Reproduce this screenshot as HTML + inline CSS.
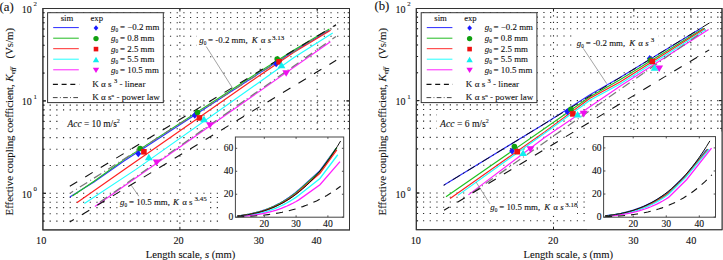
<!DOCTYPE html><html><head><meta charset="utf-8"><style>html,body{margin:0;padding:0;background:#fff;overflow:hidden}svg{display:block;font-family:"Liberation Serif",serif}</style></head><body><svg width="723" height="260" viewBox="0 0 723 260" font-family="Liberation Serif" fill="#111"><style>text{stroke:#111;stroke-width:0.1px}</style>
<rect width="723" height="260" fill="#fff"/>
<line x1="42.9" y1="221.12" x2="349.5" y2="221.12" stroke="#2a2a2a" stroke-width="1.1" stroke-dasharray="1.2 5.487"/>
<line x1="42.9" y1="213.8" x2="349.5" y2="213.8" stroke="#2a2a2a" stroke-width="1.1" stroke-dasharray="1.2 5.487"/>
<line x1="42.9" y1="207.61" x2="349.5" y2="207.61" stroke="#2a2a2a" stroke-width="1.1" stroke-dasharray="1.2 5.487"/>
<line x1="42.9" y1="202.25" x2="349.5" y2="202.25" stroke="#2a2a2a" stroke-width="1.1" stroke-dasharray="1.2 5.487"/>
<line x1="42.9" y1="197.53" x2="349.5" y2="197.53" stroke="#2a2a2a" stroke-width="1.1" stroke-dasharray="1.2 5.487"/>
<line x1="42.9" y1="193.3" x2="349.5" y2="193.3" stroke="#2a2a2a" stroke-width="1.1" stroke-dasharray="1.2 5.487"/>
<line x1="42.9" y1="165.48" x2="349.5" y2="165.48" stroke="#2a2a2a" stroke-width="1.1" stroke-dasharray="1.2 5.487"/>
<line x1="42.9" y1="149.21" x2="349.5" y2="149.21" stroke="#2a2a2a" stroke-width="1.1" stroke-dasharray="1.2 5.487"/>
<line x1="42.9" y1="137.67" x2="349.5" y2="137.67" stroke="#2a2a2a" stroke-width="1.1" stroke-dasharray="1.2 5.487"/>
<line x1="42.9" y1="128.72" x2="349.5" y2="128.72" stroke="#2a2a2a" stroke-width="1.1" stroke-dasharray="1.2 5.487"/>
<line x1="42.9" y1="121.4" x2="349.5" y2="121.4" stroke="#2a2a2a" stroke-width="1.1" stroke-dasharray="1.2 5.487"/>
<line x1="42.9" y1="115.21" x2="349.5" y2="115.21" stroke="#2a2a2a" stroke-width="1.1" stroke-dasharray="1.2 5.487"/>
<line x1="42.9" y1="109.85" x2="349.5" y2="109.85" stroke="#2a2a2a" stroke-width="1.1" stroke-dasharray="1.2 5.487"/>
<line x1="42.9" y1="105.13" x2="349.5" y2="105.13" stroke="#2a2a2a" stroke-width="1.1" stroke-dasharray="1.2 5.487"/>
<line x1="42.9" y1="100.9" x2="349.5" y2="100.9" stroke="#2a2a2a" stroke-width="1.1" stroke-dasharray="1.2 5.487"/>
<line x1="42.9" y1="73.08" x2="349.5" y2="73.08" stroke="#2a2a2a" stroke-width="1.1" stroke-dasharray="1.2 5.487"/>
<line x1="42.9" y1="56.81" x2="349.5" y2="56.81" stroke="#2a2a2a" stroke-width="1.1" stroke-dasharray="1.2 5.487"/>
<line x1="42.9" y1="45.27" x2="349.5" y2="45.27" stroke="#2a2a2a" stroke-width="1.1" stroke-dasharray="1.2 5.487"/>
<line x1="42.9" y1="36.32" x2="349.5" y2="36.32" stroke="#2a2a2a" stroke-width="1.1" stroke-dasharray="1.2 5.487"/>
<line x1="42.9" y1="29" x2="349.5" y2="29" stroke="#2a2a2a" stroke-width="1.1" stroke-dasharray="1.2 5.487"/>
<line x1="42.9" y1="22.81" x2="349.5" y2="22.81" stroke="#2a2a2a" stroke-width="1.1" stroke-dasharray="1.2 5.487"/>
<line x1="42.9" y1="17.45" x2="349.5" y2="17.45" stroke="#2a2a2a" stroke-width="1.1" stroke-dasharray="1.2 5.487"/>
<line x1="42.9" y1="12.73" x2="349.5" y2="12.73" stroke="#2a2a2a" stroke-width="1.1" stroke-dasharray="1.2 5.487"/>
<line x1="179.9" y1="8.5" x2="179.9" y2="229.9" stroke="#2a2a2a" stroke-width="1.1" stroke-dasharray="1.2 5.487"/>
<line x1="260.22" y1="8.5" x2="260.22" y2="229.9" stroke="#2a2a2a" stroke-width="1.1" stroke-dasharray="1.2 5.487"/>
<line x1="317.2" y1="8.5" x2="317.2" y2="229.9" stroke="#2a2a2a" stroke-width="1.1" stroke-dasharray="1.2 5.487"/>
<path d="M42.9 221.12h1.8M349.5 221.12h-1.8M42.9 213.8h1.8M349.5 213.8h-1.8M42.9 207.61h1.8M349.5 207.61h-1.8M42.9 202.25h1.8M349.5 202.25h-1.8M42.9 197.53h1.8M349.5 197.53h-1.8M42.9 193.3h3.0M349.5 193.3h-3.0M42.9 165.48h1.8M349.5 165.48h-1.8M42.9 149.21h1.8M349.5 149.21h-1.8M42.9 137.67h1.8M349.5 137.67h-1.8M42.9 128.72h1.8M349.5 128.72h-1.8M42.9 121.4h1.8M349.5 121.4h-1.8M42.9 115.21h1.8M349.5 115.21h-1.8M42.9 109.85h1.8M349.5 109.85h-1.8M42.9 105.13h1.8M349.5 105.13h-1.8M42.9 100.9h3.0M349.5 100.9h-3.0M42.9 73.08h1.8M349.5 73.08h-1.8M42.9 56.81h1.8M349.5 56.81h-1.8M42.9 45.27h1.8M349.5 45.27h-1.8M42.9 36.32h1.8M349.5 36.32h-1.8M42.9 29h1.8M349.5 29h-1.8M42.9 22.81h1.8M349.5 22.81h-1.8M42.9 17.45h1.8M349.5 17.45h-1.8M42.9 12.73h1.8M349.5 12.73h-1.8M42.9 193.3h3.0M349.5 193.3h-3.0M42.9 100.9h3.0M349.5 100.9h-3.0M179.9 229.9v-3M179.9 8.5v3M260.22 229.9v-3M260.22 8.5v3M317.2 229.9v-3M317.2 8.5v3" stroke="#222" stroke-width="1" fill="none"/>
<polyline points="69.8,197.1 94,182 124,161 250,79.2 294,51 329,30.5" fill="none" stroke="#3030ff" stroke-width="1.15" />
<polyline points="72.4,196 94,181.2 124,159.6 250,77.7 294,49.9 329.4,29.1" fill="none" stroke="#20c020" stroke-width="1.15" />
<polyline points="76.8,202.7 124,169.7 250,82 294,52.3 330.6,30.2" fill="none" stroke="#ff2020" stroke-width="1.15" />
<polyline points="84.4,203.5 136,169.4 250,88.8 294,57.6 332.7,32.9" fill="none" stroke="#20ffff" stroke-width="1.15" />
<polyline points="94.9,206.5 330.4,41.7" fill="none" stroke="#ff20ff" stroke-width="1.15" />
<polyline points="70.5,193 335.9,25.1" fill="none" stroke="#7a7a7a" stroke-width="1.25" stroke-dasharray="8.7 3.5 1 3.5" stroke-dashoffset="5.6"/>
<polyline points="100,202 335.9,36.5" fill="none" stroke="#7a7a7a" stroke-width="1.25" stroke-dasharray="8.7 3.5 1 3.5" />
<polyline points="69.8,186.3 336,24.7" fill="none" stroke="#111" stroke-width="1.1" stroke-dasharray="8.7 9.4" />
<polyline points="69.8,222 336.2,60.3" fill="none" stroke="#111" stroke-width="1.1" stroke-dasharray="8.7 9.4" stroke-dashoffset="4"/>
<path d="M138.3 150.3L141.2 153.8L138.3 157.3L135.4 153.8Z" fill="#1a1aff"/>
<circle cx="140.1" cy="148.5" r="2.8" fill="#10a010"/>
<rect x="141.1" y="149" width="5.6" height="5.6" fill="#ee1111"/>
<path d="M148.8 153.7L152.7 160.3L144.9 160.3Z" fill="#10eeee"/>
<path d="M156.6 166.1L160.5 159.5L152.7 159.5Z" fill="#ee10ee"/>
<path d="M194.8 111.7L197.7 115.2L194.8 118.7L191.9 115.2Z" fill="#1a1aff"/>
<circle cx="197.5" cy="112.5" r="2.8" fill="#10a010"/>
<rect x="196.7" y="115.1" width="5.6" height="5.6" fill="#ee1111"/>
<path d="M204 115.7L207.9 122.3L200.1 122.3Z" fill="#10eeee"/>
<path d="M209.9 128.8L213.8 122.2L206 122.2Z" fill="#ee10ee"/>
<path d="M276.2 60.3L279.1 63.8L276.2 67.3L273.3 63.8Z" fill="#1a1aff"/>
<circle cx="277.2" cy="59.1" r="2.8" fill="#10a010"/>
<rect x="276.3" y="59" width="5.6" height="5.6" fill="#ee1111"/>
<path d="M281.5 61.7L285.4 68.3L277.6 68.3Z" fill="#10eeee"/>
<path d="M286.2 76.8L290.1 70.2L282.3 70.2Z" fill="#ee10ee"/>
<rect x="42.9" y="8.5" width="306.6" height="221.4" fill="none" stroke="#333" stroke-width="1"/>
<rect x="47.6" y="12.7" width="115.7" height="89.9" fill="#fff" stroke="#333" stroke-width="1"/>
<text x="67" y="20.8" font-size="8.7" text-anchor="middle">sim</text>
<text x="96.8" y="20.8" font-size="8.7" text-anchor="middle">exp</text>
<line x1="53.2" y1="27.6" x2="78.8" y2="27.6" stroke="#2b2bff" stroke-width="1"/>
<path d="M96 25.13L98.38 28L96 30.87L93.62 28Z" fill="#1a1aff"/>
<text x="111.1" y="30.4" font-size="8.9"><tspan font-style="italic">g</tspan><tspan font-size="5.3" dy="1.8">0</tspan><tspan dy="-1.8" dx="-0.4"> = −0.2 mm</tspan></text>
<line x1="53.2" y1="38.2" x2="78.8" y2="38.2" stroke="#22bb22" stroke-width="1"/>
<circle cx="96" cy="38.6" r="2.66" fill="#10a010"/>
<text x="111.1" y="41" font-size="8.9"><tspan font-style="italic">g</tspan><tspan font-size="5.3" dy="1.8">0</tspan><tspan dy="-1.8" dx="-0.4"> = 0.8 mm</tspan></text>
<line x1="53.2" y1="48.7" x2="78.8" y2="48.7" stroke="#ff2b2b" stroke-width="1"/>
<rect x="93.7" y="46.8" width="4.59" height="4.59" fill="#ee1111"/>
<text x="111.1" y="51.5" font-size="8.9"><tspan font-style="italic">g</tspan><tspan font-size="5.3" dy="1.8">0</tspan><tspan dy="-1.8" dx="-0.4"> = 2.5 mm</tspan></text>
<line x1="53.2" y1="59.2" x2="78.8" y2="59.2" stroke="#22ffff" stroke-width="1"/>
<path d="M96 56.73L99.2 62.14L92.8 62.14Z" fill="#10eeee"/>
<text x="111.1" y="62" font-size="8.9"><tspan font-style="italic">g</tspan><tspan font-size="5.3" dy="1.8">0</tspan><tspan dy="-1.8" dx="-0.4"> = 5.5 mm</tspan></text>
<line x1="53.2" y1="69.8" x2="78.8" y2="69.8" stroke="#ff22ff" stroke-width="1"/>
<path d="M96 73.07L99.2 67.66L92.8 67.66Z" fill="#ee10ee"/>
<text x="111.1" y="72.6" font-size="8.9"><tspan font-style="italic">g</tspan><tspan font-size="5.3" dy="1.8">0</tspan><tspan dy="-1.8" dx="-0.4"> = 10.5 mm</tspan></text>
<line x1="52.9" y1="84.4" x2="79.2" y2="84.4" stroke="#111" stroke-width="1.1" stroke-dasharray="5 3.7"/>
<line x1="52.9" y1="97.6" x2="78.2" y2="97.6" stroke="#444" stroke-width="1" stroke-dasharray="4.7 2.3 0.9 2.3"/>
<text x="92.2" y="86.6" font-size="9.1">K α s <tspan font-size="6.5" dy="-3.5">3</tspan><tspan dy="3.5"> - linear</tspan></text>
<text x="92.2" y="99.7" font-size="9.1">K α s<tspan font-size="5" dy="-3">n</tspan><tspan dy="3"> - power law</tspan></text>
<text x="-0.5" y="11.4" font-size="12.8">(a)</text>
<text x="21.8" y="12.5" font-size="10">10<tspan font-size="6.8" dy="-6.6" dx="1.8">2</tspan></text>
<text x="21.8" y="105.3" font-size="10">10<tspan font-size="6.8" dy="-6.6" dx="1.8">1</tspan></text>
<text x="21.8" y="197.6" font-size="10">10<tspan font-size="6.8" dy="-6.6" dx="1.8">0</tspan></text>
<text x="41.2" y="244" font-size="10.2" text-anchor="middle">10</text>
<text x="178.6" y="244" font-size="10.2" text-anchor="middle">20</text>
<text x="258.8" y="244" font-size="10.2" text-anchor="middle">30</text>
<text x="316.6" y="244" font-size="10.2" text-anchor="middle">40</text>
<text x="145.8" y="258" font-size="10.6">Length scale, <tspan font-style="italic">s</tspan> (mm)</text>
<text transform="translate(12.7,215.4) rotate(-90)" font-size="10.8">Effective coupling coefficient, <tspan font-style="italic">K<tspan font-size="7" dy="1.8">eff</tspan></tspan><tspan dy="-1.8" dx="6"> (Vs/m)</tspan></text>
<rect x="63" y="112" width="66" height="23" fill="#fff"/>
<text x="67.5" y="126.5" font-size="9.4"><tspan font-style="italic">Acc</tspan> = 10 m/s<tspan font-size="6" dy="-4">2</tspan></text>
<rect x="197" y="33" width="91" height="13" fill="#fff"/>
<line x1="206.2" y1="46.5" x2="232.5" y2="88" stroke="#666" stroke-width="0.6"/>
<text x="199.2" y="43.1" font-size="8.9"><tspan font-style="italic">g</tspan><tspan font-size="5.3" dy="1.8">0</tspan><tspan dy="-1.8" dx="1.8">= -0.2 mm,</tspan><tspan font-style="italic" dx="4">K</tspan><tspan dx="1"> α </tspan><tspan font-style="italic">s</tspan><tspan font-size="7" dy="-3.6" dx="1">3.13</tspan></text>
<rect x="117.5" y="194.3" width="91" height="15.5" fill="#fff"/>
<line x1="130.8" y1="184.6" x2="138.8" y2="196.2" stroke="#666" stroke-width="0.6"/>
<text x="120.1" y="205" font-size="8.9"><tspan font-style="italic">g</tspan><tspan font-size="5.3" dy="1.8">0</tspan><tspan dy="-1.8" dx="1.8">= 10.5 mm,</tspan><tspan font-style="italic" dx="3">K</tspan><tspan dx="1"> α </tspan><tspan>s</tspan><tspan font-size="7" dy="-4" dx="2">3.45</tspan></text>
<rect x="218.5" y="131.5" width="130.5" height="98" fill="#fff"/>
<polyline points="237.27,215.92 240.33,215.55 243.39,215.12 246.45,214.63 249.51,214.06 252.57,213.4 255.63,212.67 258.7,211.84 261.76,210.91 264.82,209.88 267.88,208.74 270.94,207.49 274,206.11 277.06,204.61 280.12,202.98 283.18,201.22 286.24,199.3 289.3,197.24 292.36,195.03 295.42,192.65 298.49,190.11 319.95,170.71 336.17,148.32" fill="none" stroke="#3030ff" stroke-width="1.3" />
<polyline points="237.59,215.91 240.63,215.56 243.68,215.14 246.72,214.65 249.77,214.09 252.81,213.45 255.86,212.73 258.9,211.91 261.95,211.01 264.99,210 268.04,208.89 271.08,207.67 274.13,206.34 277.17,204.88 280.22,203.29 283.26,201.57 286.31,199.72 289.35,197.72 292.4,195.57 295.44,193.26 298.49,190.8 319.95,171.51 336.8,147.75" fill="none" stroke="#20c020" stroke-width="1.3" />
<polyline points="238.22,216.02 241.24,215.68 244.25,215.29 247.26,214.84 250.28,214.31 253.29,213.71 256.3,213.03 259.32,212.27 262.33,211.41 265.34,210.45 268.35,209.39 271.37,208.23 274.38,206.94 277.39,205.54 280.41,204.01 283.42,202.35 286.43,200.55 289.45,198.6 292.46,196.5 295.47,194.25 298.49,191.83 319.95,173.35 336.8,149.93" fill="none" stroke="#ff2020" stroke-width="1.3" />
<polyline points="239.18,216.2 242.14,215.92 245.11,215.6 248.07,215.21 251.04,214.77 254,214.27 256.97,213.7 259.94,213.05 262.9,212.32 265.87,211.51 268.83,210.62 271.8,209.62 274.76,208.53 277.73,207.33 280.69,206.02 283.66,204.59 286.62,203.04 289.59,201.36 292.55,199.55 295.52,197.6 298.49,195.5 319.95,178.51 337.76,154.75" fill="none" stroke="#20ffff" stroke-width="1.3" />
<polyline points="241.4,216.33 244.26,216.11 247.11,215.84 249.97,215.54 252.82,215.19 255.67,214.79 258.53,214.33 261.38,213.82 264.24,213.25 267.09,212.61 269.94,211.91 272.8,211.13 275.65,210.27 278.51,209.34 281.36,208.31 284.21,207.2 287.07,205.98 289.92,204.67 292.78,203.26 295.63,201.73 298.49,200.09 319.95,184.71 339.98,161.64" fill="none" stroke="#ff20ff" stroke-width="1.3" />
<polyline points="237.27,216.06 240.72,215.68 244.16,215.24 247.61,214.71 251.05,214.09 254.5,213.37 257.94,212.55 261.38,211.62 264.83,210.57 268.28,209.39 271.72,208.07 275.17,206.61 278.61,205 282.06,203.24 285.5,201.3 288.94,199.19 292.39,196.9 295.84,194.41 299.28,191.73 302.73,188.84 306.17,185.73 309.62,182.4 313.06,178.84 316.51,175.03 319.95,170.98 323.39,166.67 326.84,162.1 330.29,157.25 333.73,152.12 337.18,146.69 340.62,140.97" fill="none" stroke="#111" stroke-width="1" />
<polyline points="237.27,216.88 240.72,216.76 244.16,216.62 247.61,216.45 251.05,216.24 254.5,216 257.94,215.72 261.38,215.39 264.83,215.02 268.28,214.59 271.72,214.11 275.17,213.57 278.61,212.97 282.06,212.3 285.5,211.55 288.94,210.73 292.39,209.83 295.84,208.85 299.28,207.78 302.73,206.61 306.17,205.34 309.62,203.97 313.06,202.5 316.51,200.91 319.95,199.2 323.39,197.37 326.84,195.41 330.29,193.32 333.73,191.09 337.18,188.72 340.62,186.2" fill="none" stroke="#111" stroke-width="1.1" stroke-dasharray="7 6" />
<path d="M235.4 217.2h1.8M343.7 217.2h-1.8M235.4 194.24h1.8M343.7 194.24h-1.8M235.4 171.28h1.8M343.7 171.28h-1.8M235.4 148.32h1.8M343.7 148.32h-1.8M264.3 217.2v-1.8M264.3 137v1.8M296.1 217.2v-1.8M296.1 137v1.8M327.9 217.2v-1.8M327.9 137v1.8" stroke="#222" stroke-width="0.8" fill="none"/>
<rect x="235.4" y="137" width="108.3" height="80.2" fill="none" stroke="#444" stroke-width="1"/>
<text x="233.4" y="220.2" font-size="9.6" text-anchor="end">0</text>
<text x="233.4" y="197.24" font-size="9.6" text-anchor="end">20</text>
<text x="233.4" y="174.28" font-size="9.6" text-anchor="end">40</text>
<text x="233.4" y="151.32" font-size="9.6" text-anchor="end">60</text>
<text x="264.3" y="226.8" font-size="9.6" text-anchor="middle">20</text>
<text x="296.1" y="226.8" font-size="9.6" text-anchor="middle">30</text>
<text x="327.9" y="226.8" font-size="9.6" text-anchor="middle">40</text>
<line x1="416.3" y1="220.82" x2="722" y2="220.82" stroke="#2a2a2a" stroke-width="1.1" stroke-dasharray="1.2 5.487"/>
<line x1="416.3" y1="213.5" x2="722" y2="213.5" stroke="#2a2a2a" stroke-width="1.1" stroke-dasharray="1.2 5.487"/>
<line x1="416.3" y1="207.31" x2="722" y2="207.31" stroke="#2a2a2a" stroke-width="1.1" stroke-dasharray="1.2 5.487"/>
<line x1="416.3" y1="201.95" x2="722" y2="201.95" stroke="#2a2a2a" stroke-width="1.1" stroke-dasharray="1.2 5.487"/>
<line x1="416.3" y1="197.23" x2="722" y2="197.23" stroke="#2a2a2a" stroke-width="1.1" stroke-dasharray="1.2 5.487"/>
<line x1="416.3" y1="193" x2="722" y2="193" stroke="#2a2a2a" stroke-width="1.1" stroke-dasharray="1.2 5.487"/>
<line x1="416.3" y1="165.18" x2="722" y2="165.18" stroke="#2a2a2a" stroke-width="1.1" stroke-dasharray="1.2 5.487"/>
<line x1="416.3" y1="148.91" x2="722" y2="148.91" stroke="#2a2a2a" stroke-width="1.1" stroke-dasharray="1.2 5.487"/>
<line x1="416.3" y1="137.37" x2="722" y2="137.37" stroke="#2a2a2a" stroke-width="1.1" stroke-dasharray="1.2 5.487"/>
<line x1="416.3" y1="128.42" x2="722" y2="128.42" stroke="#2a2a2a" stroke-width="1.1" stroke-dasharray="1.2 5.487"/>
<line x1="416.3" y1="121.1" x2="722" y2="121.1" stroke="#2a2a2a" stroke-width="1.1" stroke-dasharray="1.2 5.487"/>
<line x1="416.3" y1="114.91" x2="722" y2="114.91" stroke="#2a2a2a" stroke-width="1.1" stroke-dasharray="1.2 5.487"/>
<line x1="416.3" y1="109.55" x2="722" y2="109.55" stroke="#2a2a2a" stroke-width="1.1" stroke-dasharray="1.2 5.487"/>
<line x1="416.3" y1="104.83" x2="722" y2="104.83" stroke="#2a2a2a" stroke-width="1.1" stroke-dasharray="1.2 5.487"/>
<line x1="416.3" y1="100.6" x2="722" y2="100.6" stroke="#2a2a2a" stroke-width="1.1" stroke-dasharray="1.2 5.487"/>
<line x1="416.3" y1="72.78" x2="722" y2="72.78" stroke="#2a2a2a" stroke-width="1.1" stroke-dasharray="1.2 5.487"/>
<line x1="416.3" y1="56.51" x2="722" y2="56.51" stroke="#2a2a2a" stroke-width="1.1" stroke-dasharray="1.2 5.487"/>
<line x1="416.3" y1="44.97" x2="722" y2="44.97" stroke="#2a2a2a" stroke-width="1.1" stroke-dasharray="1.2 5.487"/>
<line x1="416.3" y1="36.02" x2="722" y2="36.02" stroke="#2a2a2a" stroke-width="1.1" stroke-dasharray="1.2 5.487"/>
<line x1="416.3" y1="28.7" x2="722" y2="28.7" stroke="#2a2a2a" stroke-width="1.1" stroke-dasharray="1.2 5.487"/>
<line x1="416.3" y1="22.51" x2="722" y2="22.51" stroke="#2a2a2a" stroke-width="1.1" stroke-dasharray="1.2 5.487"/>
<line x1="416.3" y1="17.15" x2="722" y2="17.15" stroke="#2a2a2a" stroke-width="1.1" stroke-dasharray="1.2 5.487"/>
<line x1="416.3" y1="12.43" x2="722" y2="12.43" stroke="#2a2a2a" stroke-width="1.1" stroke-dasharray="1.2 5.487"/>
<line x1="553.5" y1="8.5" x2="553.5" y2="229.7" stroke="#2a2a2a" stroke-width="1.1" stroke-dasharray="1.2 5.487"/>
<line x1="633.82" y1="8.5" x2="633.82" y2="229.7" stroke="#2a2a2a" stroke-width="1.1" stroke-dasharray="1.2 5.487"/>
<line x1="690.8" y1="8.5" x2="690.8" y2="229.7" stroke="#2a2a2a" stroke-width="1.1" stroke-dasharray="1.2 5.487"/>
<path d="M416.3 220.82h1.8M722 220.82h-1.8M416.3 213.5h1.8M722 213.5h-1.8M416.3 207.31h1.8M722 207.31h-1.8M416.3 201.95h1.8M722 201.95h-1.8M416.3 197.23h1.8M722 197.23h-1.8M416.3 193h3.0M722 193h-3.0M416.3 165.18h1.8M722 165.18h-1.8M416.3 148.91h1.8M722 148.91h-1.8M416.3 137.37h1.8M722 137.37h-1.8M416.3 128.42h1.8M722 128.42h-1.8M416.3 121.1h1.8M722 121.1h-1.8M416.3 114.91h1.8M722 114.91h-1.8M416.3 109.55h1.8M722 109.55h-1.8M416.3 104.83h1.8M722 104.83h-1.8M416.3 100.6h3.0M722 100.6h-3.0M416.3 72.78h1.8M722 72.78h-1.8M416.3 56.51h1.8M722 56.51h-1.8M416.3 44.97h1.8M722 44.97h-1.8M416.3 36.02h1.8M722 36.02h-1.8M416.3 28.7h1.8M722 28.7h-1.8M416.3 22.51h1.8M722 22.51h-1.8M416.3 17.15h1.8M722 17.15h-1.8M416.3 12.43h1.8M722 12.43h-1.8M416.3 193h3.0M722 193h-3.0M416.3 100.6h3.0M722 100.6h-3.0M553.5 229.7v-3M553.5 8.5v3M633.82 229.7v-3M633.82 8.5v3M690.8 229.7v-3M690.8 8.5v3" stroke="#222" stroke-width="1" fill="none"/>
<polyline points="443.7,185.3 545,123.4 590,94.8 620,77.5 702.3,27.5" fill="none" stroke="#3030ff" stroke-width="1.15" />
<polyline points="446,196.8 545,128.2 590,96.8 620,79.8 703.75,28.3" fill="none" stroke="#20c020" stroke-width="1.15" />
<polyline points="450.1,198.5 545,131.6 590,98.3 620,82.1 704.2,28.9" fill="none" stroke="#ff2020" stroke-width="1.15" />
<polyline points="457.8,195.4 545,133 590,100.2 620,84 705.7,29.5" fill="none" stroke="#20ffff" stroke-width="1.15" />
<polyline points="468.4,194.9 545,137.2 620,86.2 708.6,29.5" fill="none" stroke="#ff20ff" stroke-width="1.15" />
<polyline points="443.7,185.3 709.5,22.9" fill="none" stroke="#111" stroke-width="1.0" stroke-dasharray="8.7 3.5 1.5 3.5" stroke-dashoffset="6.6"/>
<polyline points="472,193 705.5,29.8" fill="none" stroke="#7a7a7a" stroke-width="1.25" stroke-dasharray="8.7 3.5 1 3.5" />
<polyline points="444,210.3 709.2,49.9" fill="none" stroke="#111" stroke-width="1.1" stroke-dasharray="8.7 9.4" stroke-dashoffset="2.4"/>
<path d="M512.1 147.6L515 151.1L512.1 154.6L509.2 151.1Z" fill="#1a1aff"/>
<circle cx="514.4" cy="146.5" r="2.8" fill="#10a010"/>
<rect x="514.5" y="148.9" width="5.6" height="5.6" fill="#ee1111"/>
<path d="M523.1 149.4L527 156L519.2 156Z" fill="#10eeee"/>
<path d="M530.5 152.9L534.4 146.3L526.6 146.3Z" fill="#ee10ee"/>
<path d="M567.3 108.3L570.2 111.8L567.3 115.3L564.4 111.8Z" fill="#1a1aff"/>
<circle cx="570.9" cy="109.2" r="2.8" fill="#10a010"/>
<rect x="570.1" y="111.1" width="5.6" height="5.6" fill="#ee1111"/>
<path d="M577.6 111L581.5 117.6L573.7 117.6Z" fill="#10eeee"/>
<path d="M583.7 117.4L587.6 110.8L579.8 110.8Z" fill="#ee10ee"/>
<path d="M649.7 55L652.6 58.5L649.7 62L646.8 58.5Z" fill="#1a1aff"/>
<circle cx="650.5" cy="60" r="2.8" fill="#10a010"/>
<rect x="649.5" y="58.7" width="5.6" height="5.6" fill="#ee1111"/>
<path d="M654.6 64.2L658.5 70.8L650.7 70.8Z" fill="#10eeee"/>
<path d="M659.2 72L663.1 65.4L655.3 65.4Z" fill="#ee10ee"/>
<rect x="416.3" y="8.5" width="305.7" height="221.2" fill="none" stroke="#333" stroke-width="1"/>
<rect x="421.2" y="12.7" width="115.7" height="89.9" fill="#fff" stroke="#333" stroke-width="1"/>
<text x="440.6" y="20.8" font-size="8.7" text-anchor="middle">sim</text>
<text x="470.4" y="20.8" font-size="8.7" text-anchor="middle">exp</text>
<line x1="426.8" y1="27.6" x2="452.4" y2="27.6" stroke="#2b2bff" stroke-width="1"/>
<path d="M469.6 25.13L471.98 28L469.6 30.87L467.22 28Z" fill="#1a1aff"/>
<text x="484.7" y="30.4" font-size="8.9"><tspan font-style="italic">g</tspan><tspan font-size="5.3" dy="1.8">0</tspan><tspan dy="-1.8" dx="-0.4"> = −0.2 mm</tspan></text>
<line x1="426.8" y1="38.2" x2="452.4" y2="38.2" stroke="#22bb22" stroke-width="1"/>
<circle cx="469.6" cy="38.6" r="2.66" fill="#10a010"/>
<text x="484.7" y="41" font-size="8.9"><tspan font-style="italic">g</tspan><tspan font-size="5.3" dy="1.8">0</tspan><tspan dy="-1.8" dx="-0.4"> = 0.8 mm</tspan></text>
<line x1="426.8" y1="48.7" x2="452.4" y2="48.7" stroke="#ff2b2b" stroke-width="1"/>
<rect x="467.3" y="46.8" width="4.59" height="4.59" fill="#ee1111"/>
<text x="484.7" y="51.5" font-size="8.9"><tspan font-style="italic">g</tspan><tspan font-size="5.3" dy="1.8">0</tspan><tspan dy="-1.8" dx="-0.4"> = 2.5 mm</tspan></text>
<line x1="426.8" y1="59.2" x2="452.4" y2="59.2" stroke="#22ffff" stroke-width="1"/>
<path d="M469.6 56.73L472.8 62.14L466.4 62.14Z" fill="#10eeee"/>
<text x="484.7" y="62" font-size="8.9"><tspan font-style="italic">g</tspan><tspan font-size="5.3" dy="1.8">0</tspan><tspan dy="-1.8" dx="-0.4"> = 5.5 mm</tspan></text>
<line x1="426.8" y1="69.8" x2="452.4" y2="69.8" stroke="#ff22ff" stroke-width="1"/>
<path d="M469.6 73.07L472.8 67.66L466.4 67.66Z" fill="#ee10ee"/>
<text x="484.7" y="72.6" font-size="8.9"><tspan font-style="italic">g</tspan><tspan font-size="5.3" dy="1.8">0</tspan><tspan dy="-1.8" dx="-0.4"> = 10.5 mm</tspan></text>
<line x1="426.5" y1="84.4" x2="452.8" y2="84.4" stroke="#111" stroke-width="1.1" stroke-dasharray="5 3.7"/>
<line x1="426.5" y1="97.6" x2="451.8" y2="97.6" stroke="#444" stroke-width="1" stroke-dasharray="4.7 2.3 0.9 2.3"/>
<text x="465.8" y="86.6" font-size="9.1">K α s <tspan font-size="6.5" dy="-3.5">3</tspan><tspan dy="3.5"> - linear</tspan></text>
<text x="465.8" y="99.7" font-size="9.1">K α s<tspan font-size="5" dy="-3">n</tspan><tspan dy="3"> - power law</tspan></text>
<text x="374.4" y="10.4" font-size="12.8">(b)</text>
<text x="395.4" y="12.5" font-size="10">10<tspan font-size="6.8" dy="-6.6" dx="1.8">2</tspan></text>
<text x="395.4" y="105.3" font-size="10">10<tspan font-size="6.8" dy="-6.6" dx="1.8">1</tspan></text>
<text x="395.4" y="197.6" font-size="10">10<tspan font-size="6.8" dy="-6.6" dx="1.8">0</tspan></text>
<text x="415.8" y="244" font-size="10.2" text-anchor="middle">10</text>
<text x="553.2" y="244" font-size="10.2" text-anchor="middle">20</text>
<text x="633.4" y="244" font-size="10.2" text-anchor="middle">30</text>
<text x="691.2" y="244" font-size="10.2" text-anchor="middle">40</text>
<text x="523.6" y="258" font-size="10.6">Length scale, <tspan font-style="italic">s</tspan> (mm)</text>
<text transform="translate(386.3,215.4) rotate(-90)" font-size="10.8">Effective coupling coefficient, <tspan font-style="italic">K<tspan font-size="7" dy="1.8">eff</tspan></tspan><tspan dy="-1.8" dx="6"> (Vs/m)</tspan></text>
<rect x="436.6" y="112" width="65" height="23" fill="#fff"/>
<text x="440.1" y="126.5" font-size="9.6"><tspan font-style="italic">Acc</tspan> = 6 m/s<tspan font-size="6" dy="-4">2</tspan></text>
<rect x="573" y="33.5" width="85" height="15.3" fill="#fff"/>
<line x1="583.2" y1="48.3" x2="606.7" y2="83.6" stroke="#666" stroke-width="0.6"/>
<text x="576.8" y="45.8" font-size="8.9"><tspan font-style="italic">g</tspan><tspan font-size="5.3" dy="1.8">0</tspan><tspan dy="-1.8" dx="1.8">= -0.2 mm,</tspan><tspan font-style="italic" dx="4">K</tspan><tspan dx="1"> α </tspan><tspan font-style="italic">s</tspan><tspan font-size="7" dy="-4" dx="2">3</tspan></text>
<rect x="488" y="198.5" width="89" height="17" fill="#fff"/>
<line x1="476.1" y1="182.1" x2="489.9" y2="203.8" stroke="#666" stroke-width="0.6"/>
<text x="490.3" y="210.3" font-size="8.9"><tspan font-style="italic">g</tspan><tspan font-size="5.3" dy="1.8">0</tspan><tspan dy="-1.8" dx="1.8">= 10.5 mm,</tspan><tspan font-style="italic" dx="4">K</tspan><tspan dx="1"> α </tspan><tspan font-style="italic">s</tspan><tspan font-size="7" dy="-3.4" dx="1.5">3.18</tspan></text>
<rect x="587" y="131.5" width="135" height="98" fill="#fff"/>
<polyline points="605.11,215.78 608.28,215.42 611.45,215 614.63,214.52 617.8,213.96 620.97,213.34 624.14,212.63 627.32,211.85 630.49,210.97 633.66,210 636.84,208.94 640.01,207.77 643.18,206.5 646.35,205.12 649.53,203.62 652.7,202.01 655.87,200.27 659.05,198.4 662.22,196.39 665.39,194.25 668.56,191.96 685.42,175.59 706.9,149.53" fill="none" stroke="#3030ff" stroke-width="1.3" />
<polyline points="605.44,215.91 608.59,215.58 611.75,215.19 614.91,214.74 618.06,214.22 621.22,213.63 624.38,212.97 627.53,212.22 630.69,211.38 633.84,210.46 637,209.44 640.16,208.31 643.31,207.08 646.47,205.74 649.63,204.28 652.78,202.7 655.94,200.99 659.09,199.14 662.25,197.16 665.41,195.04 668.56,192.77 685.42,176.28 707.89,149.07" fill="none" stroke="#20c020" stroke-width="1.3" />
<polyline points="606.1,215.98 609.22,215.66 612.35,215.29 615.47,214.86 618.59,214.36 621.72,213.8 624.84,213.15 627.96,212.43 631.08,211.62 634.21,210.71 637.33,209.71 640.45,208.61 643.58,207.39 646.7,206.07 649.82,204.62 652.95,203.05 656.07,201.35 659.19,199.51 662.32,197.53 665.44,195.4 668.56,193.12 685.42,176.75 708.22,149.3" fill="none" stroke="#ff2020" stroke-width="1.3" />
<polyline points="607.09,215.99 610.16,215.69 613.24,215.34 616.31,214.93 619.39,214.45 622.46,213.91 625.53,213.3 628.61,212.61 631.68,211.84 634.75,210.98 637.83,210.03 640.9,208.99 643.97,207.84 647.05,206.58 650.12,205.21 653.2,203.71 656.27,202.1 659.34,200.35 662.42,198.47 665.49,196.44 668.56,194.27 685.42,177.67 709.22,149.07" fill="none" stroke="#20ffff" stroke-width="1.3" />
<polyline points="609.4,216.05 612.36,215.78 615.32,215.47 618.28,215.11 621.24,214.7 624.19,214.23 627.15,213.7 630.11,213.1 633.07,212.44 636.03,211.7 638.98,210.89 641.94,209.99 644.9,209 647.86,207.92 650.82,206.75 653.77,205.47 656.73,204.09 659.69,202.59 662.65,200.98 665.61,199.24 668.56,197.38 686.74,179.51 711.53,148.04" fill="none" stroke="#ff20ff" stroke-width="1.3" />
<polyline points="605.11,215.92 608.6,215.55 612.09,215.09 615.58,214.56 619.08,213.94 622.57,213.22 626.06,212.4 629.55,211.47 633.05,210.41 636.54,209.23 640.03,207.92 643.52,206.46 647.01,204.85 650.51,203.08 654,201.15 657.49,199.04 660.98,196.75 664.48,194.27 667.97,191.59 671.46,188.7 674.95,185.6 678.45,182.28 681.94,178.72 685.43,174.92 688.92,170.87 692.41,166.57 695.91,162 699.4,157.15 702.89,152.02 706.38,146.61 709.88,140.89" fill="none" stroke="#111" stroke-width="1" />
<polyline points="605.11,216.76 608.67,216.63 612.22,216.46 615.78,216.27 619.34,216.02 622.9,215.74 626.46,215.4 630.02,215 633.57,214.54 637.13,214.01 640.69,213.41 644.25,212.72 647.81,211.95 651.37,211.08 654.92,210.12 658.48,209.04 662.04,207.86 665.6,206.55 669.16,205.11 672.72,203.53 676.28,201.82 679.83,199.95 683.39,197.91 686.95,195.72 690.51,193.34 694.07,190.78 697.63,188.03 701.18,185.07 704.74,181.9 708.3,178.52 711.86,174.9" fill="none" stroke="#111" stroke-width="1.1" stroke-dasharray="7 6" />
<path d="M603.6 217.1h1.8M715.5 217.1h-1.8M603.6 194.04h1.8M715.5 194.04h-1.8M603.6 170.98h1.8M715.5 170.98h-1.8M603.6 147.92h1.8M715.5 147.92h-1.8M633.2 217.2v-1.8M633.2 136.6v1.8M666.25 217.2v-1.8M666.25 136.6v1.8M699.3 217.2v-1.8M699.3 136.6v1.8" stroke="#222" stroke-width="0.8" fill="none"/>
<rect x="603.6" y="136.6" width="111.9" height="80.6" fill="none" stroke="#444" stroke-width="1"/>
<text x="601.6" y="220.1" font-size="9.6" text-anchor="end">0</text>
<text x="601.6" y="197.04" font-size="9.6" text-anchor="end">20</text>
<text x="601.6" y="173.98" font-size="9.6" text-anchor="end">40</text>
<text x="601.6" y="150.92" font-size="9.6" text-anchor="end">60</text>
<text x="633.2" y="226.8" font-size="9.6" text-anchor="middle">20</text>
<text x="666.25" y="226.8" font-size="9.6" text-anchor="middle">30</text>
<text x="699.3" y="226.8" font-size="9.6" text-anchor="middle">40</text>
<rect x="42.9" y="8.5" width="306.6" height="221.4" fill="none" stroke="#333" stroke-width="1"/>
<rect x="416.3" y="8.5" width="305.7" height="221.2" fill="none" stroke="#333" stroke-width="1"/>
</svg></body></html>
